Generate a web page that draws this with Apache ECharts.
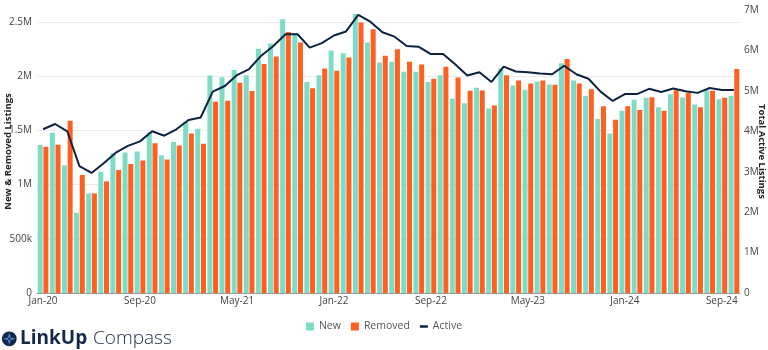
<!DOCTYPE html>
<html>
<head>
<meta charset="utf-8">
<script src="https://cdn.jsdelivr.net/npm/echarts@6/dist/echarts.min.js"></script>
<style>
html,body{margin:0;padding:0;background:#fff;}
#chart{width:768px;height:350px;}
</style>
</head>
<body>
<div id="chart"></div>
<script>
const months = ['Jan','Feb','Mar','Apr','May','Jun','Jul','Aug','Sep','Oct','Nov','Dec'];
const categories = [];
for (let y = 20; y <= 24; y++) {
  for (let m = 0; m < 12; m++) {
    if (y === 24 && m > 9) break;
    categories.push(months[m] + '-' + y);
  }
}
// values in millions
const newListings = [1.364,1.477,1.176,0.740,0.918,1.118,1.287,1.296,1.305,1.480,1.270,1.393,
  1.580,1.514,2.006,1.990,2.056,2.008,2.252,2.300,2.525,2.396,1.947,2.009,
  2.236,2.212,2.574,2.310,2.125,2.132,2.040,2.040,1.945,2.009,1.791,1.751,
  1.892,1.701,2.070,1.913,1.874,1.950,1.923,2.120,1.960,1.816,1.604,1.471,
  1.680,1.782,1.800,1.714,1.834,1.803,1.738,1.867,1.788,1.818];
const removedListings = [1.348,1.367,1.588,1.088,0.918,1.029,1.134,1.189,1.222,1.382,1.231,1.360,
  1.470,1.376,1.763,1.772,1.938,1.863,2.111,2.181,2.408,2.310,1.889,2.070,
  2.049,2.171,2.494,2.433,2.187,2.247,2.132,2.107,1.975,2.086,1.987,1.865,
  1.867,1.729,2.009,1.960,1.932,1.960,1.920,2.157,1.932,1.880,1.723,1.597,
  1.723,1.687,1.806,1.680,1.871,1.846,1.714,1.865,1.800,2.065];
const activeListings = [4.05,4.18,4.00,3.14,2.97,3.21,3.47,3.64,3.75,4.00,3.89,4.05,
  4.28,4.34,4.98,5.12,5.39,5.54,5.87,6.11,6.40,6.40,6.07,6.18,
  6.37,6.47,6.88,6.71,6.45,6.34,6.11,6.09,5.91,5.91,5.66,5.38,
  5.46,5.22,5.60,5.48,5.46,5.43,5.41,5.62,5.41,5.30,4.98,4.75,
  4.92,4.92,5.05,4.97,5.06,4.99,4.95,5.07,5.02,5.02];
const leftTicks = [0, 0.5, 1, 1.5, 2, 2.5];
const rightTicks = [0, 1, 2, 3, 4, 5, 6, 7];

const FONT = '"Open Sans", sans-serif';
const chart = echarts.init(document.getElementById('chart'), null, {renderer: 'canvas'});

function fmtLeft(v) {
  const m = Math.round(v * 1e6);
  if (!leftTicks.some(t => Math.abs(t * 1e6 - m) < 1)) return '';
  if (m === 0) return '0';
  if (m < 1e6) return (m / 1000) + 'k';
  return (m / 1e6) + 'M';
}
function fmtRight(v) {
  if (!rightTicks.includes(v)) return '';
  return v === 0 ? '0' : v + 'M';
}

chart.setOption({
  animation: false,
  textStyle: {fontFamily: FONT},
  grid: {left: 37, right: 28, top: 10, bottom: 57, containLabel: false, outerBoundsMode: 'none'},
  legend: {
    left: 'center', top: 316,
    itemWidth: 8, itemHeight: 8, itemGap: 10,
    textStyle: {fontFamily: FONT, fontSize: 10.5, color: '#555'},
    data: [
      {name: 'New', icon: 'rect'},
      {name: 'Removed', icon: 'rect'},
      {name: 'Active', icon: 'path://M0,0h8v2.5h-8z'}
    ]
  },
  xAxis: {
    type: 'category',
    data: categories,
    axisLine: {show: true, lineStyle: {color: '#999', width: 1}},
    axisTick: {show: false},
    axisLabel: {interval: 7, margin: 3, fontSize: 10, color: '#444', fontFamily: FONT}
  },
  yAxis: [
    {
      type: 'value', min: 0, max: 2.61, interval: 0.5,
      name: 'New & Removed Listings', nameLocation: 'middle', nameGap: 24, nameRotate: 90,
      nameMoveOverlap: false,
      nameTextStyle: {fontFamily: FONT, fontSize: 9.5, fontWeight: 'bold', color: '#222'},
      axisLine: {show: false}, axisTick: {show: false},
      axisLabel: {formatter: fmtLeft, margin: 5, fontSize: 10, color: '#444', fontFamily: FONT, showMaxLabel: false},
      splitLine: {show: true, showMaxLine: false, lineStyle: {color: '#ebebeb', width: 1}}
    },
    {
      type: 'value', min: 0, max: 7, interval: 1, position: 'right',
      name: 'Total Active Listings', nameLocation: 'middle', nameGap: 17, nameRotate: -90,
      nameMoveOverlap: false,
      nameTextStyle: {fontFamily: FONT, fontSize: 9.5, fontWeight: 'bold', color: '#222'},
      axisLine: {show: false}, axisTick: {show: false},
      axisLabel: {formatter: fmtRight, margin: 4, fontSize: 10, color: '#444', fontFamily: FONT},
      splitLine: {show: false}
    }
  ],
  series: [
    {
      name: 'New', type: 'bar', data: newListings, yAxisIndex: 0,
      barWidth: 5, barGap: '14%',
      itemStyle: {color: '#7ddcc6'}
    },
    {
      name: 'Removed', type: 'bar', data: removedListings, yAxisIndex: 0,
      barWidth: 5, barGap: '14%',
      itemStyle: {color: '#ff5f1f'}
    },
    {
      name: 'Active', type: 'line', data: activeListings, yAxisIndex: 1,
      showSymbol: false, symbol: 'none', z: 5,
      lineStyle: {color: '#0d2341', width: 2},
      itemStyle: {color: '#0d2341'}
    }
  ],
  graphic: [
    {type: 'circle', shape: {cx: 9.3, cy: 338.8, r: 7.4}, style: {fill: '#13294b'}},
    {type: 'polygon', shape: {points: [[9.3,332.6],[10.6,337.5],[15.5,338.8],[10.6,340.1],[9.3,345],[8,340.1],[3.1,338.8],[8,337.5]]}, style: {fill: '#4a8fd0'}},
    {type: 'circle', shape: {cx: 9.3, cy: 338.8, r: 1.2}, style: {fill: '#13294b'}},
    {type: 'text', style: {x: 20, y: 339, text: 'LinkUp', font: 'bold 19px "Open Sans", sans-serif', fill: '#13294b', textVerticalAlign: 'middle'}},
    {type: 'text', style: {x: 93, y: 339, text: 'Compass', font: '300 19px "Open Sans", sans-serif', fill: '#1d2a40', textVerticalAlign: 'middle'}}
  ]
});
</script>
</body>
</html>
